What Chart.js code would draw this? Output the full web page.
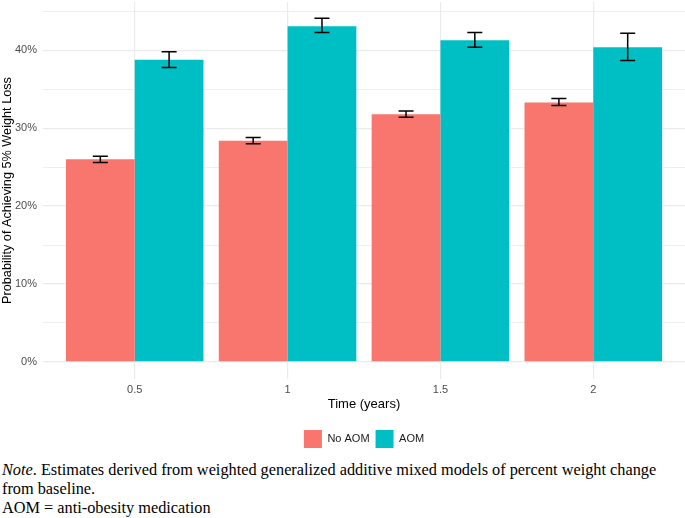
<!DOCTYPE html>
<html>
<head>
<meta charset="utf-8">
<script src="https://cdn.jsdelivr.net/npm/chart.js@4.4.0/dist/chart.umd.min.js"></script>
<style>
  body { margin: 0; background: #fff; width: 685px; height: 518px; overflow: hidden; }
  #wrap { width: 685px; height: 462px; margin-top: -4px; position: relative; }
  .note { font-family: "Liberation Serif", "Times New Roman", serif; font-size: 16.3px; line-height: 19px; color: #000; margin: 2px 0 0 2px; }
</style>
</head>
<body>
<div id="wrap"><canvas id="weightChart"></canvas></div>
<div class="note"><i>Note</i>. Estimates derived from weighted generalized additive mixed models of percent weight change from baseline.<br>AOM = anti-obesity medication</div>
<script>
const timeLabels = ['0.5', '1', '1.5', '2'];
const noAomValues = [26.0, 28.4, 31.8, 33.3];
const noAomLow = [25.6, 28.0, 31.4, 32.9];
const noAomHigh = [26.4, 28.8, 32.2, 33.8];
const aomValues = [38.8, 43.1, 41.3, 40.4];
const aomLow = [37.8, 42.3, 40.4, 38.7];
const aomHigh = [39.8, 44.1, 42.3, 42.2];
const yTicks = [0, 5, 10, 15, 20, 25, 30, 35, 40, 45];

const points = vals => vals.map((v, i) => ({ x: i + 1, y: v }));

// whiskers drawn from the low/high arrays using the chart's own scales
const errorBars = {
    id: 'errorBars',
    afterDatasetsDraw(chart) {
        const ctx = chart.ctx;
        const y = chart.scales.y;
        chart.data.datasets.forEach((ds, di) => {
            const meta = chart.getDatasetMeta(di);
            meta.data.forEach((bar, i) => {
                const top = y.getPixelForValue(ds.errHigh[i]);
                const bottom = y.getPixelForValue(ds.errLow[i]);
                const half = 7.5;
                ctx.save();
                ctx.strokeStyle = '#000';
                ctx.lineWidth = 1.5;
                ctx.beginPath();
                ctx.moveTo(bar.x, top); ctx.lineTo(bar.x, bottom);
                ctx.moveTo(bar.x - half, top); ctx.lineTo(bar.x + half, top);
                ctx.moveTo(bar.x - half, bottom); ctx.lineTo(bar.x + half, bottom);
                ctx.stroke();
                ctx.restore();
            });
        });
    }
};

const sans = 'Liberation Sans, Arial, sans-serif';

const ctx = document.getElementById('weightChart');
new Chart(ctx, {
    type: 'bar',
    data: {
        datasets: [{
            label: 'No AOM',
            data: points(noAomValues),
            errLow: noAomLow,
            errHigh: noAomHigh,
            backgroundColor: '#F8766D',
            borderWidth: 0,
        }, {
            label: 'AOM',
            data: points(aomValues),
            errLow: aomLow,
            errHigh: aomHigh,
            backgroundColor: '#00BFC4',
            borderWidth: 0,
        }]
    },
    options: {
        responsive: true,
        maintainAspectRatio: false,
        animation: false,
        layout: { padding: { top: 1, right: 0, left: 0, bottom: 0 } },
        datasets: { bar: { categoryPercentage: 0.9, barPercentage: 1.0 } },
        plugins: {
            tooltip: { enabled: false },
            legend: {
                position: 'bottom',
                fullSize: false,
                labels: {
                    boxWidth: 18,
                    boxHeight: 18,
                    padding: 6,
                    color: '#1a1a1a',
                    font: { family: sans, size: 11 }
                }
            }
        },
        scales: {
            x: {
                type: 'linear',
                offset: false,
                min: 0.4,
                max: 4.6,
                afterBuildTicks: s => { s.ticks = timeLabels.map((t, i) => ({ value: i + 1 })); },
                afterFit: s => { s.height = 45; },
                grid: { offset: false, color: '#ebebeb', lineWidth: 1.2, drawTicks: false },
                border: { display: false },
                ticks: {
                    padding: 4,
                    color: '#4d4d4d',
                    font: { family: sans, size: 11 },
                    callback: v => timeLabels[v - 1]
                },
                title: {
                    display: true,
                    text: 'Time (years)',
                    color: '#000',
                    padding: { top: 0, bottom: 12 },
                    font: { family: sans, size: 13 }
                }
            },
            y: {
                min: -2.2,
                max: 46.2,
                afterBuildTicks: s => { s.ticks = yTicks.map(v => ({ value: v })); },
                afterFit: s => { s.width = 43; },
                grid: {
                    color: '#ebebeb',
                    lineWidth: c => (c.tick.value % 10 === 0 ? 1.2 : 0.8),
                    drawTicks: false
                },
                border: { display: false },
                ticks: {
                    padding: 6,
                    color: '#4d4d4d',
                    font: c => ({ family: sans, size: 11, lineHeight: c.tick && c.tick.value % 10 !== 0 ? 0 : 1.2 }),
                    callback: v => (v % 10 === 0 ? v + '%' : '')
                },
                title: {
                    display: true,
                    text: 'Probability of Achieving 5% Weight Loss',
                    color: '#000',
                    padding: { top: 0, bottom: 0 },
                    font: { family: sans, size: 12.7 }
                }
            }
        }
    },
    plugins: [errorBars]
});
</script>
</body>
</html>
